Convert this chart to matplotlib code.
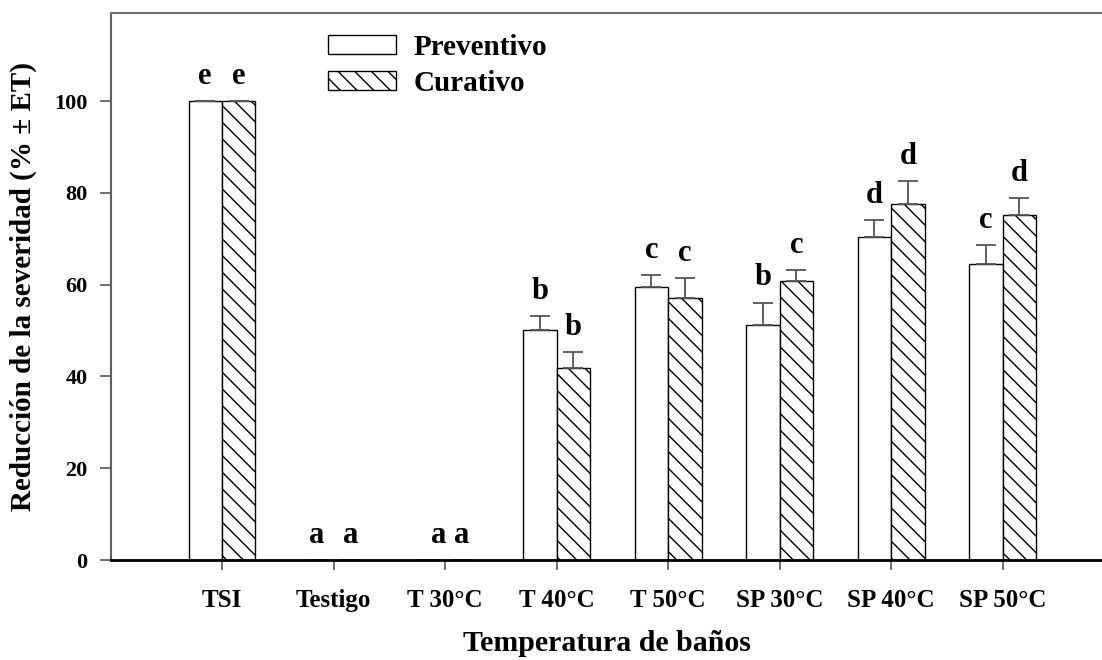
import matplotlib
matplotlib.use("Agg")
import matplotlib.pyplot as plt
from matplotlib.patches import Patch
import numpy as np

categories = ["TSI", "Testigo", "T 30°C", "T 40°C", "T 50°C", "SP 30°C", "SP 40°C", "SP 50°C"]
preventivo = [100.0, 0.0, 0.0, 50.1, 59.5, 51.3, 70.3, 64.4]
preventivo_err = [0.0, 0.0, 0.0, 3.1, 2.6, 4.8, 3.7, 4.2]
curativo = [100.0, 0.0, 0.0, 41.8, 57.2, 60.8, 77.6, 75.1]
curativo_err = [0.0, 0.0, 0.0, 3.5, 4.2, 2.4, 5.0, 3.8]
letters_prev = ["e", "a", "a", "b", "c", "b", "d", "c"]
letters_cur = ["e", "a", "a", "b", "c", "c", "d", "d"]

plt.rcParams['font.family'] = ['Liberation Serif', 'DejaVu Serif']
plt.rcParams['font.weight'] = 'bold'
plt.rcParams['hatch.linewidth'] = 1.0

fig = plt.figure(figsize=(11.02, 6.6), dpi=100)
ax = fig.add_axes([111/1102, 100/660, 1 - 111/1102, (560-13)/660])

x = np.arange(len(categories))
w = 0.30
grey = '#555555'
ax.bar(x - w/2, preventivo, w, color='white', edgecolor='black', linewidth=1.0,
       yerr=[np.zeros(len(x)), preventivo_err], error_kw=dict(ecolor=grey, elinewidth=1.3, capsize=7.5, capthick=1.3),
       label='Preventivo', zorder=2)
ax.bar(x + w/2, curativo, w, color='white', edgecolor='black', linewidth=1.0, hatch='\\\\',
       yerr=[np.zeros(len(x)), curativo_err], error_kw=dict(ecolor=grey, elinewidth=1.3, capsize=7.5, capthick=1.3),
       label='Curativo', zorder=2)

for i in range(len(x)):
    dxp = 0.09 if categories[i] == "T 30°C" else 0.0
    ax.text(x[i] - w/2 + dxp, preventivo[i] + preventivo_err[i] + 2.2, letters_prev[i],
            ha='center', va='bottom', fontsize=22, fontweight='bold')
    ax.text(x[i] + w/2, curativo[i] + curativo_err[i] + 2.2, letters_cur[i],
            ha='center', va='bottom', fontsize=22, fontweight='bold')

ax.set_xlim(-0.995, 7.89)
ax.set_ylim(0, 119.2)
ax.set_xticks(x)
ax.set_xticklabels(categories, fontsize=18, fontweight='bold')
ax.set_yticks([0, 20, 40, 60, 80, 100])
ax.set_yticklabels(['0', '20', '40', '60', '80', '100'], fontsize=16, fontweight='bold')
ax.tick_params(axis='x', direction='out', length=7, width=1.2, color=grey, pad=14)
ax.tick_params(axis='y', direction='out', length=8, width=1.2, color=grey, pad=9)

ax.spines['right'].set_visible(False)
ax.spines['top'].set_color('#707070')
ax.spines['top'].set_linewidth(1.5)
ax.spines['left'].set_color('#606060')
ax.spines['left'].set_linewidth(1.5)
ax.spines['bottom'].set_color('black')
ax.spines['bottom'].set_linewidth(2.0)

ax.set_xlabel('Temperatura de baños', fontsize=21.5, fontweight='bold', labelpad=13)
ax.set_ylabel('Reducción de la severidad (% ± ET)', fontsize=21, fontweight='bold', labelpad=12)

handles = [Patch(facecolor='white', edgecolor='black', linewidth=1.0, label='Preventivo'),
           Patch(facecolor='white', edgecolor='black', linewidth=1.0, hatch='\\\\', label='Curativo')]
leg = ax.legend(handles=handles, loc='upper left', bbox_to_anchor=(328/1102, (660-34)/660),
                bbox_transform=fig.transFigure, frameon=False, fontsize=21,
                handlelength=2.34, handleheight=0.6, handletextpad=0.6, labelspacing=0.3,
                borderpad=0, borderaxespad=0)
for t in leg.get_texts():
    t.set_fontweight('bold')

fig.savefig('out.png', dpi=100)
